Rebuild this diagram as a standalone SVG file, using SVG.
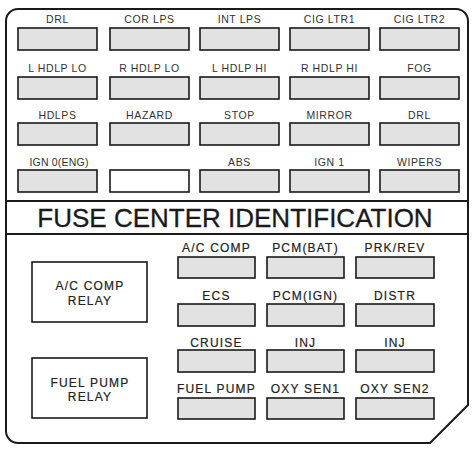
<svg xmlns="http://www.w3.org/2000/svg" width="474" height="451" viewBox="0 0 474 451">
<style>
.fuse{fill:#e2e2e2;stroke:#1a1a1a;stroke-width:1.6}
.empty{fill:#ffffff;stroke:#1a1a1a;stroke-width:1.6}
.relay{fill:#ffffff;stroke:#1a1a1a;stroke-width:1.6}
.lbl{font-family:"Liberation Sans",Arial,sans-serif;font-size:10.5px;fill:#333;text-anchor:middle;letter-spacing:0.6px}
.lbl2{font-family:"Liberation Sans",Arial,sans-serif;font-size:12px;fill:#222;text-anchor:middle;letter-spacing:1.2px;stroke:#222;stroke-width:0.2}
.title{font-family:"Liberation Sans",Arial,sans-serif;font-size:26px;fill:#1a1a1a;text-anchor:middle;stroke:#1a1a1a;stroke-width:0.3}
.frame{fill:#ffffff;stroke:#1a1a1a;stroke-width:2}
.div{stroke:#1a1a1a;stroke-width:2}
</style>
<rect width="474" height="451" fill="#ffffff"/>
<g id="frame">
<path class="frame" d="M19 9 H456 A12 12 0 0 1 468 21 V405 L430 443 H18 A12 12 0 0 1 6 431 V21 A12 12 0 0 1 18 9 Z"/>
<line class="div" x1="6" y1="201" x2="468" y2="201"/>
<line class="div" x1="6" y1="234" x2="468" y2="234"/>
</g>
<g id="title"><text class="title" x="235" y="227">FUSE CENTER IDENTIFICATION</text></g>

<!-- Top section row 1 -->
<g id="f-drl1"><text class="lbl" x="57.5" y="23">DRL</text><rect class="fuse" x="18" y="28" width="79" height="22"/></g>
<g id="f-cor-lps"><text class="lbl" x="149.5" y="23">COR LPS</text><rect class="fuse" x="110" y="28" width="79" height="22"/></g>
<g id="f-int-lps"><text class="lbl" x="239.5" y="23">INT LPS</text><rect class="fuse" x="200" y="28" width="79" height="22"/></g>
<g id="f-cig-ltr1"><text class="lbl" x="329.5" y="23">CIG LTR1</text><rect class="fuse" x="290" y="28" width="79" height="22"/></g>
<g id="f-cig-ltr2"><text class="lbl" x="419.5" y="23">CIG LTR2</text><rect class="fuse" x="380" y="28" width="79" height="22"/></g>
<!-- row 2 -->
<g id="f-l-hdlp-lo"><text class="lbl" x="57.5" y="72">L HDLP LO</text><rect class="fuse" x="18" y="77" width="79" height="22"/></g>
<g id="f-r-hdlp-lo"><text class="lbl" x="149.5" y="72">R HDLP LO</text><rect class="fuse" x="110" y="77" width="79" height="22"/></g>
<g id="f-l-hdlp-hi"><text class="lbl" x="239.5" y="72">L HDLP HI</text><rect class="fuse" x="200" y="77" width="79" height="22"/></g>
<g id="f-r-hdlp-hi"><text class="lbl" x="329.5" y="72">R HDLP HI</text><rect class="fuse" x="290" y="77" width="79" height="22"/></g>
<g id="f-fog"><text class="lbl" x="419.5" y="72">FOG</text><rect class="fuse" x="380" y="77" width="79" height="22"/></g>
<!-- row 3 -->
<g id="f-hdlps"><text class="lbl" x="57.5" y="119">HDLPS</text><rect class="fuse" x="18" y="123" width="79" height="22"/></g>
<g id="f-hazard"><text class="lbl" x="149.5" y="119">HAZARD</text><rect class="fuse" x="110" y="123" width="79" height="22"/></g>
<g id="f-stop"><text class="lbl" x="239.5" y="119">STOP</text><rect class="fuse" x="200" y="123" width="79" height="22"/></g>
<g id="f-mirror"><text class="lbl" x="329.5" y="119">MIRROR</text><rect class="fuse" x="290" y="123" width="79" height="22"/></g>
<g id="f-drl2"><text class="lbl" x="419.5" y="119">DRL</text><rect class="fuse" x="380" y="123" width="79" height="22"/></g>
<!-- row 4 -->
<g id="f-ign0"><text class="lbl" x="59" y="166" style="letter-spacing:0.2px">IGN 0(ENG)</text><rect class="fuse" x="18" y="170" width="79" height="22"/></g>
<g id="f-empty"><rect class="empty" x="110" y="170" width="79" height="22"/></g>
<g id="f-abs"><text class="lbl" x="239.5" y="166">ABS</text><rect class="fuse" x="200" y="170" width="79" height="22"/></g>
<g id="f-ign1"><text class="lbl" x="329.5" y="166">IGN 1</text><rect class="fuse" x="290" y="170" width="79" height="22"/></g>
<g id="f-wipers"><text class="lbl" x="419.5" y="166">WIPERS</text><rect class="fuse" x="380" y="170" width="79" height="22"/></g>

<!-- Relays -->
<g id="r-ac-comp"><rect class="relay" x="32" y="262" width="115" height="60"/><text class="lbl2" x="90" y="290">A/C COMP</text><text class="lbl2" x="90" y="305">RELAY</text></g>
<g id="r-fuel-pump"><rect class="relay" x="32" y="358" width="115" height="60"/><text class="lbl2" x="90" y="387">FUEL PUMP</text><text class="lbl2" x="90" y="401">RELAY</text></g>

<!-- Bottom fuses -->
<g id="f-ac-comp"><text class="lbl2" x="216.5" y="252">A/C COMP</text><rect class="fuse" x="178" y="257" width="77" height="21"/></g>
<g id="f-pcm-bat"><text class="lbl2" x="305.5" y="252">PCM(BAT)</text><rect class="fuse" x="267" y="257" width="77" height="21"/></g>
<g id="f-prk-rev"><text class="lbl2" x="395" y="252">PRK/REV</text><rect class="fuse" x="356" y="257" width="78" height="21"/></g>
<g id="f-ecs"><text class="lbl2" x="216.5" y="300">ECS</text><rect class="fuse" x="178" y="304" width="77" height="22"/></g>
<g id="f-pcm-ign"><text class="lbl2" x="305.5" y="300">PCM(IGN)</text><rect class="fuse" x="267" y="304" width="77" height="22"/></g>
<g id="f-distr"><text class="lbl2" x="395" y="300">DISTR</text><rect class="fuse" x="356" y="304" width="78" height="22"/></g>
<g id="f-cruise"><text class="lbl2" x="216.5" y="347">CRUISE</text><rect class="fuse" x="178" y="350" width="77" height="22"/></g>
<g id="f-inj1"><text class="lbl2" x="305.5" y="347">INJ</text><rect class="fuse" x="267" y="350" width="77" height="22"/></g>
<g id="f-inj2"><text class="lbl2" x="395" y="347">INJ</text><rect class="fuse" x="356" y="350" width="78" height="22"/></g>
<g id="f-fuel-pump"><text class="lbl2" x="216.5" y="393">FUEL PUMP</text><rect class="fuse" x="178" y="398" width="77" height="21"/></g>
<g id="f-oxy-sen1"><text class="lbl2" x="305.5" y="393">OXY SEN1</text><rect class="fuse" x="267" y="398" width="77" height="21"/></g>
<g id="f-oxy-sen2"><text class="lbl2" x="395" y="393">OXY SEN2</text><rect class="fuse" x="356" y="398" width="78" height="21"/></g>
<g id="connectors"/>
</svg>
